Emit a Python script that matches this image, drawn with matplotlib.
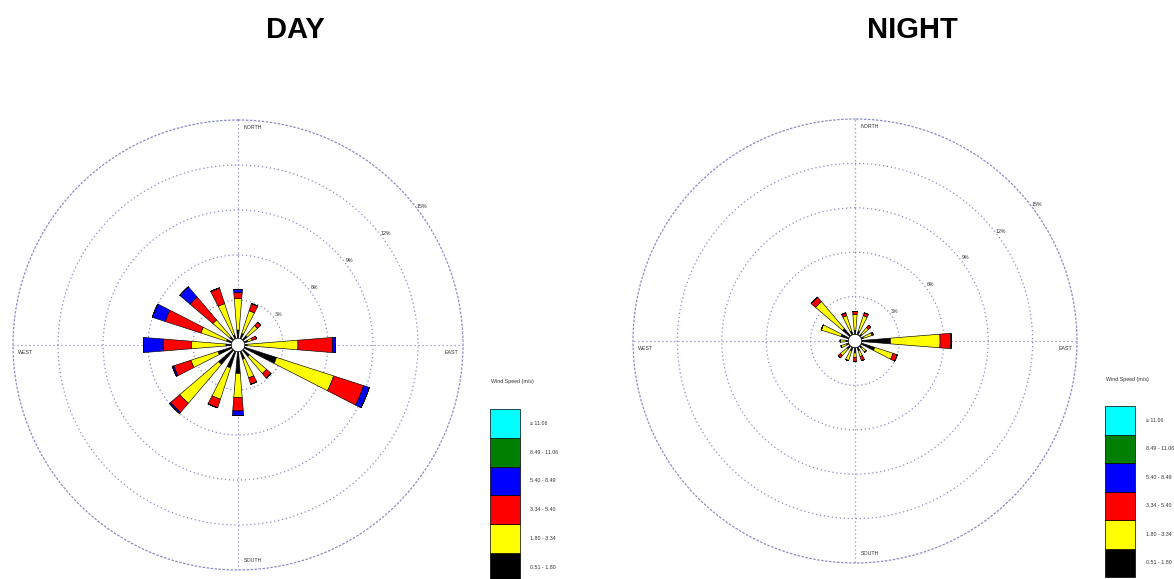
import numpy as np
import matplotlib.pyplot as plt
from matplotlib.patches import Rectangle

plt.rcParams['font.family'] = ['Liberation Sans', 'DejaVu Sans']

W, H = 1174, 579

# 16 compass sectors, clockwise from north
directions = ["N", "NNE", "NE", "ENE", "E", "ESE", "SE", "SSE",
              "S", "SSW", "SW", "WSW", "W", "WNW", "NW", "NNW"]

speed_classes = ["0.51 - 1.80", "1.80 - 3.34", "3.34 - 5.40",
                 "5.40 - 8.49", "8.49 - 11.06", "\u2265 11.06"]
class_colors = ["#000000", "#ffff00", "#ff0000", "#0000ff", "#007f00", "#00ffff"]

# frequency (%) per direction for each speed class - daytime
day_c1 = [1.0, 0.8, 0.8, 0.7, 0.6, 2.7, 1.0, 1.0, 1.9, 1.6, 1.7, 1.4, 0.8, 0.8, 0.7, 0.7]
day_c2 = [2.1, 1.6, 0.9, 0.3, 3.4, 4.0, 1.5, 1.3, 1.6, 2.2, 3.4, 1.9, 2.3, 1.8, 1.5, 2.2]
day_c3 = [0.4, 0.5, 0.3, 0.3, 2.3, 2.1, 0.4, 0.45, 0.9, 0.6, 0.8, 1.2, 1.9, 2.5, 2.0, 1.1]
day_c4 = [0.2, 0.0, 0.0, 0.0, 0.2, 0.4, 0.0, 0.0, 0.3, 0.0, 0.1, 0.1, 1.3, 0.9, 0.9, 0.0]
day_c5 = [0.0] * 16
day_c6 = [0.0] * 16

# nighttime
night_c1 = [0.7, 0.7, 0.6, 0.6, 2.4, 1.4, 0.6, 0.7, 0.8, 0.7, 0.7, 0.6, 0.6, 1.0, 1.1, 0.7]
night_c2 = [1.1, 1.1, 0.6, 0.6, 3.35, 1.3, 0.4, 0.4, 0.3, 0.7, 0.6, 0.4, 0.4, 1.4, 2.4, 1.1]
night_c3 = [0.2, 0.2, 0.2, 0.1, 0.75, 0.3, 0.0, 0.3, 0.3, 0.0, 0.2, 0.0, 0.0, 0.0, 0.4, 0.2]
night_c4 = [0.0] * 16
night_c5 = [0.0] * 16
night_c6 = [0.0] * 16

rings = [3, 6, 9, 12, 15]
grid_col = "#8c8cc4"
dots = (0, (1, 2.2))


def px_rect(x0, y0, x1, y1):
    return [x0 / W, 1 - y1 / H, (x1 - x0) / W, (y1 - y0) / H]


def draw_rose(fig, cx, cy, rad, classes):
    ax = fig.add_axes(px_rect(cx - rad, cy - rad, cx + rad, cy + rad), projection="polar")
    ax.set_theta_zero_location("N")
    ax.set_theta_direction(-1)
    ax.set_ylim(0, 15)
    ax.set_yticks(rings[:-1])
    ax.set_xticks(np.deg2rad([0, 90, 180, 270]))
    ax.set_xticklabels([])
    ax.set_yticklabels([])
    ax.tick_params(length=0)
    ax.grid(color=grid_col, linestyle=dots, linewidth=0.9)
    ax.spines["polar"].set(color=grid_col, linestyle=dots, linewidth=0.9)

    theta = np.deg2rad(np.arange(16) * 22.5)
    bottom = np.zeros(16)
    for vals, col in zip(classes, class_colors):
        vals = np.array(vals)
        ax.bar(theta, vals, width=0.16, bottom=bottom, color=col,
               edgecolor="black", linewidth=0.45, zorder=3)
        bottom += vals

    tc = np.linspace(0, 2 * np.pi, 120)
    ax.fill(tc, np.full_like(tc, 0.45), facecolor="white", edgecolor="black",
            linewidth=0.5, zorder=5)

    # ring labels along the north-east diagonal
    for r in rings:
        ax.text(np.deg2rad(53), r + 0.35, f"{r}%", fontsize=3.8, color="#333333",
                ha="center", va="center")

    kw = dict(fontsize=3.8, color="#333333", transform=ax.transAxes)
    ax.text(0.512, 0.983, "NORTH", ha="left", va="center", **kw)
    ax.text(0.512, 0.022, "SOUTH", ha="left", va="center", **kw)
    ax.text(0.012, 0.484, "WEST", ha="left", va="center", **kw)
    ax.text(0.99, 0.484, "EAST", ha="right", va="center", **kw)
    return ax


def draw_key(fig, x0, y0, box_h):
    n = len(speed_classes)
    ax = fig.add_axes(px_rect(x0, y0, x0 + 30, y0 + n * box_h))
    ax.set_xlim(0, 1)
    ax.set_ylim(0, n)
    ax.axis("off")
    for i, (lab, col) in enumerate(zip(speed_classes, class_colors)):
        ax.add_patch(Rectangle((0, i), 1, 1, facecolor=col, edgecolor="black",
                               linewidth=0.5, clip_on=False))
        ax.text(1.35, i + 0.5, lab, fontsize=3.8, color="#333333", va="center", ha="left")
    fig.text((x0 + 1) / W, 1 - (y0 - 27) / H, "Wind Speed (m/s)", fontsize=3.8,
             color="#333333", ha="left", va="center")


fig = plt.figure(figsize=(W / 100, H / 100), dpi=100)

draw_rose(fig, 238, 345, 225, [day_c1, day_c2, day_c3, day_c4, day_c5, day_c6])
draw_rose(fig, 855, 341, 222, [night_c1, night_c2, night_c3, night_c4, night_c5, night_c6])

draw_key(fig, 490, 409, 28.8)
draw_key(fig, 1105, 406, 28.5)

fig.text(295 / W, 1 - 30 / H, "DAY", fontsize=21, fontweight="bold", ha="center", va="center")
fig.text(912 / W, 1 - 30 / H, "NIGHT", fontsize=21, fontweight="bold", ha="center", va="center")

fig.savefig("out.png", dpi=100)
